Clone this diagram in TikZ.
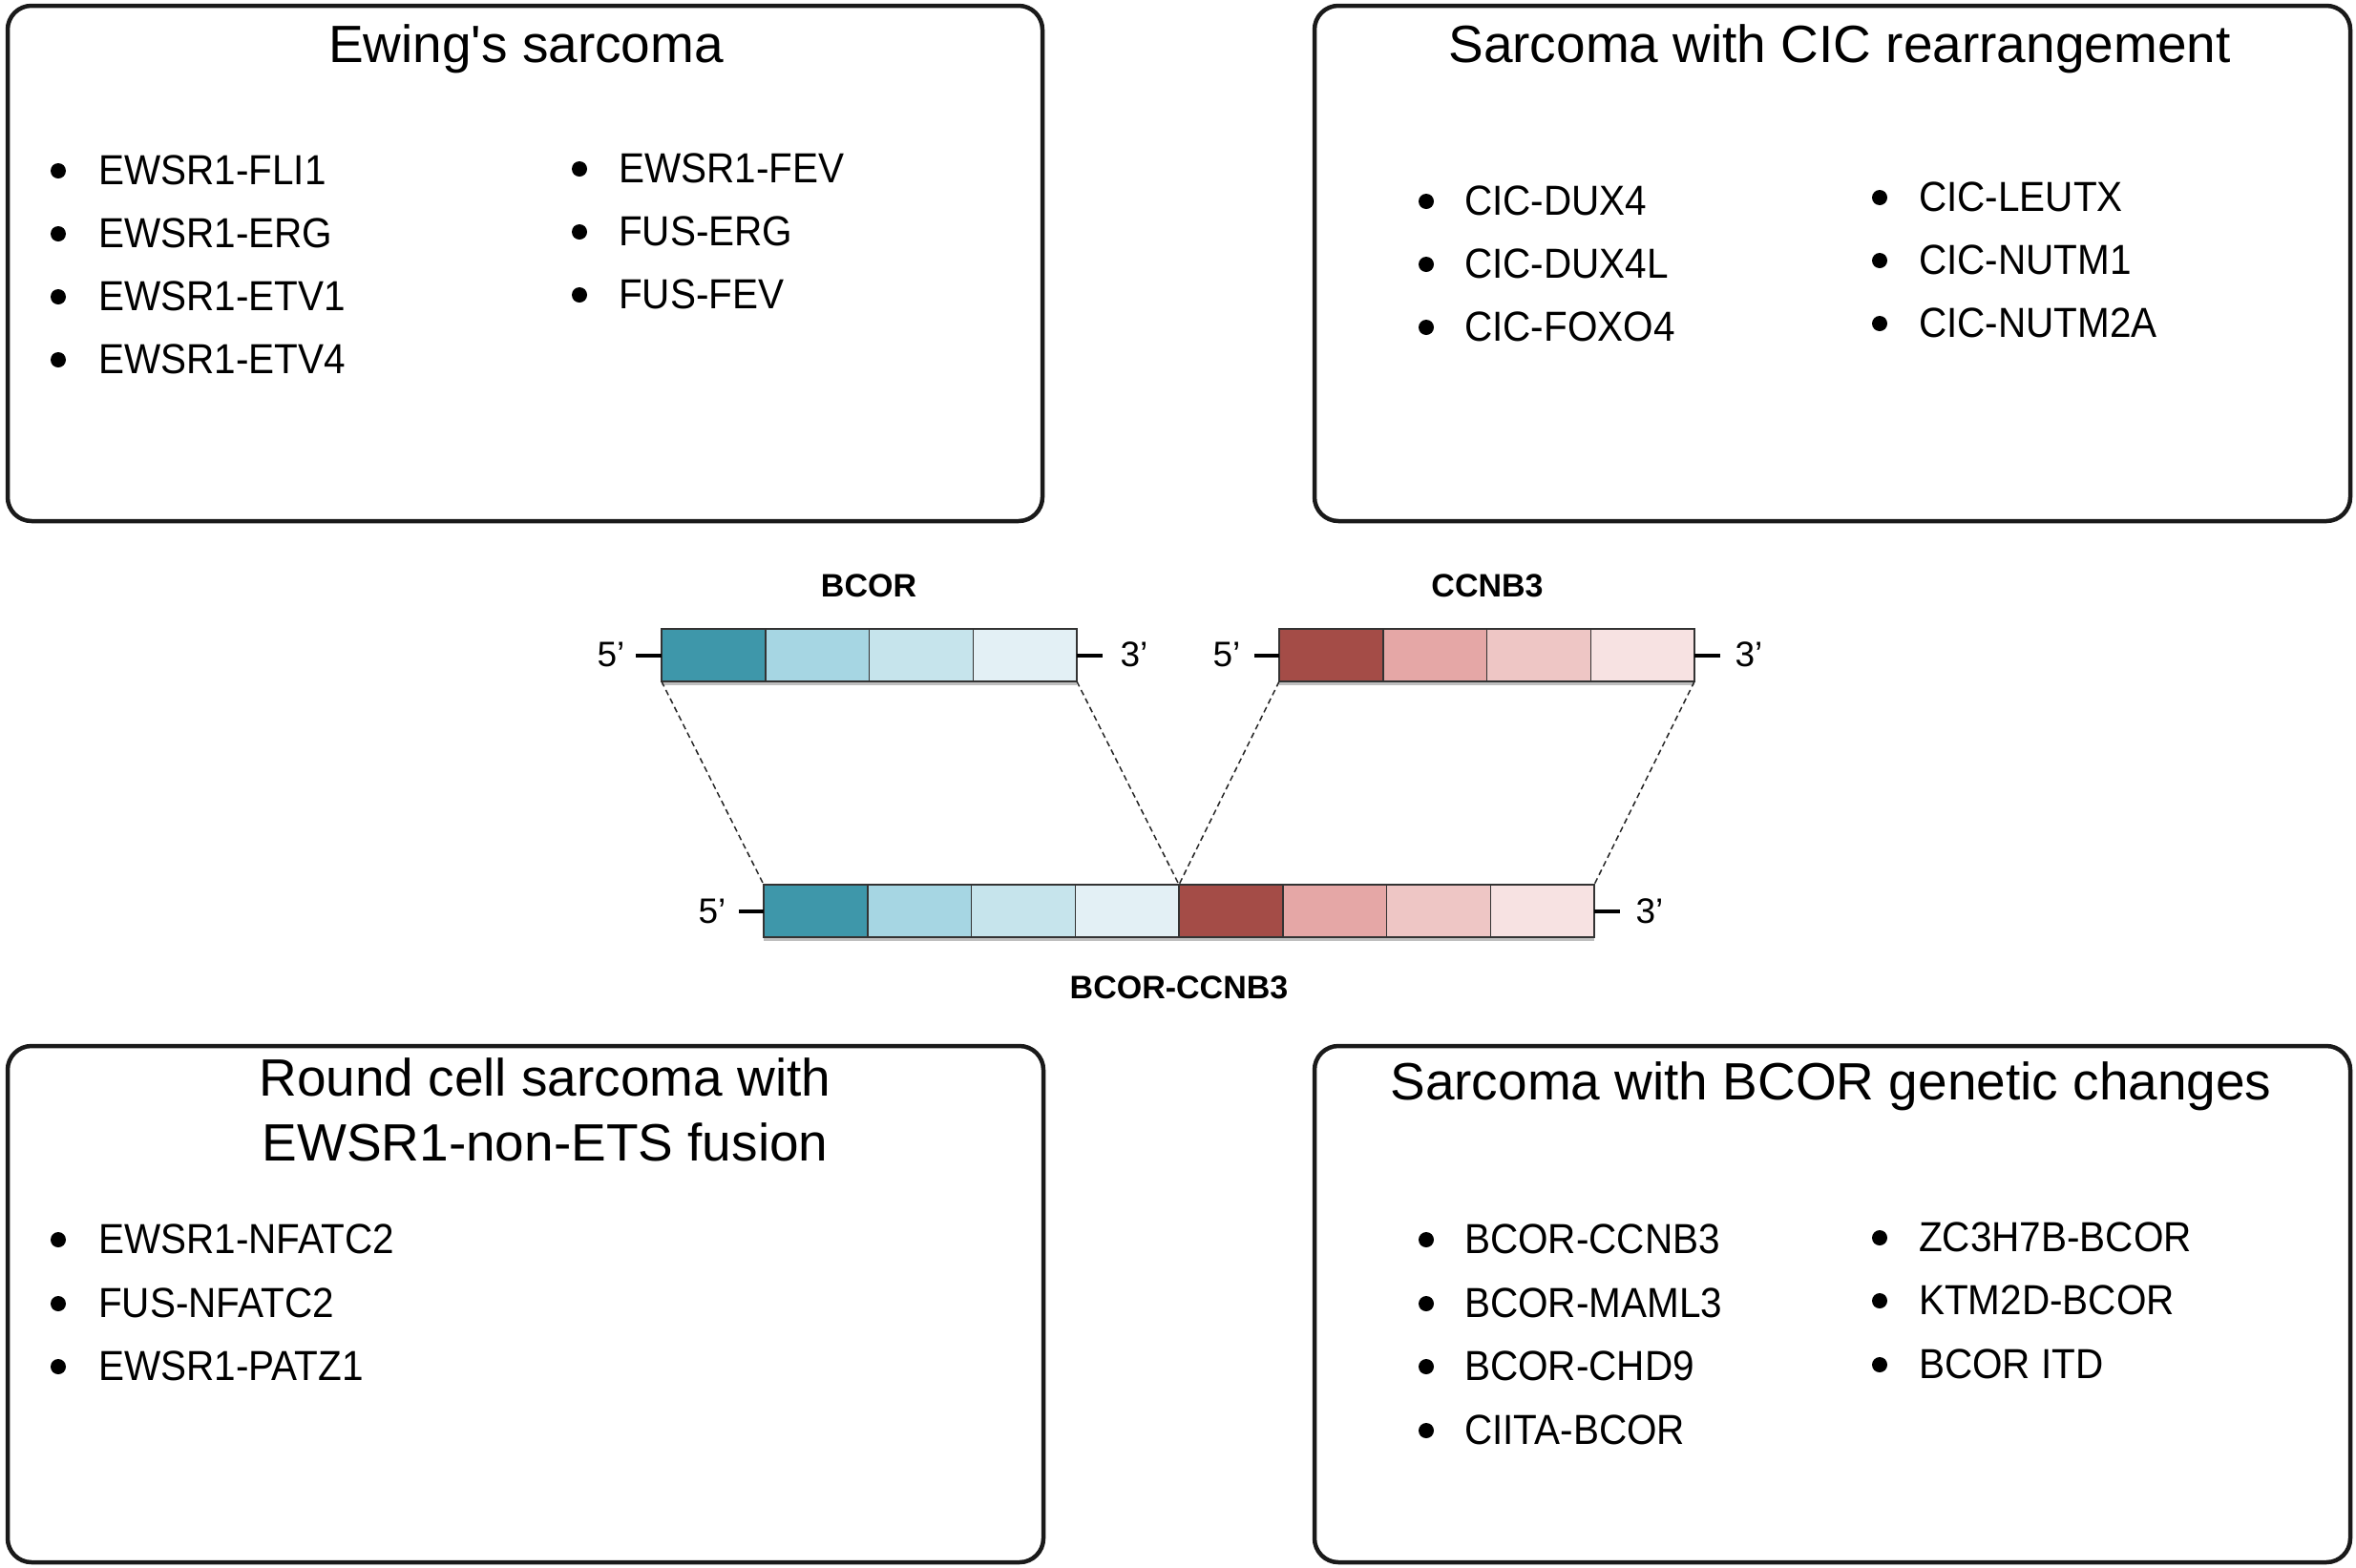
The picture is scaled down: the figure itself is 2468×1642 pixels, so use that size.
\documentclass[tikz,border=0pt]{standalone}
\usepackage{fontspec}
\setmainfont{Liberation Sans}
\newfontfamily\itemfont[FakeStretch=0.92]{Liberation Sans}
\newfontfamily\rawfont{Liberation Sans}
\usetikzlibrary{calc}
\definecolor{tA}{HTML}{3E97AA}
\definecolor{tB}{HTML}{A6D6E3}
\definecolor{tC}{HTML}{C6E4EC}
\definecolor{tD}{HTML}{E3F0F5}
\definecolor{rA}{HTML}{A44C47}
\definecolor{rB}{HTML}{E5A7A6}
\definecolor{rC}{HTML}{EEC6C5}
\definecolor{rD}{HTML}{F7E2E2}
\definecolor{edge}{HTML}{1A1A1A}
\begin{document}
\begin{tikzpicture}[x=1pt,y=-1pt,
  panel/.style={draw=edge, line width=4.5pt, rounded corners=25pt, inner sep=0pt, outer sep=0pt, anchor=north west},
  ptitle/.style={anchor=base, inner sep=0pt, font=\rawfont\fontsize{55}{66}\selectfont},
  item/.style={anchor=base west, inner sep=0pt, font=\itemfont\fontsize{44}{52}\selectfont},
  seg/.style={draw=black!80, line width=1.5pt, minimum width=108.75pt, minimum height=55pt, inner sep=0pt, outer sep=0pt, anchor=north west},
  stub/.style={line width=4pt, black},
  prime/.style={inner sep=0pt, font=\fontsize{37}{44}\selectfont},
  gname/.style={inner sep=0pt, font=\bfseries\fontsize{34}{40}\selectfont},
  link/.style={line width=1.5pt, black!85, dash pattern=on 6pt off 4pt},
  shade/.style={line width=3pt, black!25}
]
\useasboundingbox (0,0) rectangle (2468,1642);
\fill[white] (0,0) rectangle (2468,1642);

% panels
\node[panel, minimum width=1084pt, minimum height=540pt] (p1) at (8,6) {};
\node[panel, minimum width=1085pt, minimum height=540pt] (p2) at (1377,6) {};
\node[panel, minimum width=1085pt, minimum height=541pt] (p3) at (8,1096) {};
\node[panel, minimum width=1085pt, minimum height=541pt] (p4) at (1377,1096) {};

% titles
\node[ptitle] (t1) at (551,65) {Ewing's sarcoma};
\node[ptitle] (t2) at (1927,65) {Sarcoma with CIC rearrangement};
\node[ptitle] (t3a) at (571,1148) {Round cell sarcoma with};
\node[ptitle] (t3b) at (571,1216) {EWSR1-non-ETS fusion};
\node[ptitle] (t4) at (1918,1152) {Sarcoma with BCOR genetic changes};

% lists
\foreach \txt/\yy [count=\i] in {EWSR1-FLI1/193, EWSR1-ERG/259, EWSR1-ETV1/325, EWSR1-ETV4/391} {
  \fill (61,\yy-14) circle (8);
  \node[item] (ea\i) at (103,\yy) {\txt};
}
\foreach \txt/\yy [count=\i] in {EWSR1-FEV/191, FUS-ERG/257, FUS-FEV/323} {
  \fill (607,\yy-14) circle (8);
  \node[item] (eb\i) at (648,\yy) {\txt};
}
\foreach \txt/\yy [count=\i] in {CIC-DUX4/225, CIC-DUX4L/291, CIC-FOXO4/357} {
  \fill (1494,\yy-14) circle (8);
  \node[item] (ca\i) at (1534,\yy) {\txt};
}
\foreach \txt/\yy [count=\i] in {CIC-LEUTX/221, CIC-NUTM1/287, CIC-NUTM2A/353} {
  \fill (1969,\yy-14) circle (8);
  \node[item] (cb\i) at (2010,\yy) {\txt};
}
\foreach \txt/\yy [count=\i] in {EWSR1-NFATC2/1313, FUS-NFATC2/1380, EWSR1-PATZ1/1446} {
  \fill (61,\yy-14) circle (8);
  \node[item] (na\i) at (103,\yy) {\txt};
}
\foreach \txt/\yy [count=\i] in {BCOR-CCNB3/1313, BCOR-MAML3/1380, BCOR-CHD9/1446, CIITA-BCOR/1513} {
  \fill (1494,\yy-14) circle (8);
  \node[item] (ba\i) at (1534,\yy) {\txt};
}
\foreach \txt/\yy [count=\i] in {ZC3H7B-BCOR/1311, KTM2D-BCOR/1377, BCOR ITD/1444} {
  \fill (1969,\yy-14) circle (8);
  \node[item] (bb\i) at (2010,\yy) {\txt};
}

% gene names
\node[gname] (gbcor) at (910,614) {BCOR};
\node[gname] (gccnb) at (1558,614) {CCNB3};
\node[gname] (gfus) at (1235,1035) {BCOR-CCNB3};

% shadows
\draw[shade] (693,716) -- (1128,716);
\draw[shade] (1340,716) -- (1775,716);
\draw[shade] (800,984) -- (1670,984);

% BCOR
\node[seg, fill=tA] (b1) at (693,659) {};
\node[seg, fill=tB] (b2) at (b1.north east) {};
\node[seg, fill=tC] (b3) at (b2.north east) {};
\node[seg, fill=tD] (b4) at (b3.north east) {};
% CCNB3
\node[seg, fill=rA] (c1) at (1340,659) {};
\node[seg, fill=rB] (c2) at (c1.north east) {};
\node[seg, fill=rC] (c3) at (c2.north east) {};
\node[seg, fill=rD] (c4) at (c3.north east) {};
% fusion
\node[seg, fill=tA] (f1) at (800,927) {};
\node[seg, fill=tB] (f2) at (f1.north east) {};
\node[seg, fill=tC] (f3) at (f2.north east) {};
\node[seg, fill=tD] (f4) at (f3.north east) {};
\node[seg, fill=rA] (f5) at (f4.north east) {};
\node[seg, fill=rB] (f6) at (f5.north east) {};
\node[seg, fill=rC] (f7) at (f6.north east) {};
\node[seg, fill=rD] (f8) at (f7.north east) {};

% stubs
\coordinate (sb1) at ($(b1.west)+(-27,0)$);
\coordinate (sb2) at ($(b4.east)+(27,0)$);
\coordinate (sc1) at ($(c1.west)+(-26,0)$);
\coordinate (sc2) at ($(c4.east)+(27,0)$);
\coordinate (sf1) at ($(f1.west)+(-26,0)$);
\coordinate (sf2) at ($(f8.east)+(27,0)$);
\draw[stub] (b1.west) -- (sb1);
\draw[stub] (b4.east) -- (sb2);
\draw[stub] (c1.west) -- (sc1);
\draw[stub] (c4.east) -- (sc2);
\draw[stub] (f1.west) -- (sf1);
\draw[stub] (f8.east) -- (sf2);

% primes
\node[prime] (lb5) at (640,686) {5’};
\node[prime] (lb3) at (1188,686) {3’};
\node[prime] (lc5) at (1285,686) {5’};
\node[prime] (lc3) at (1832,686) {3’};
\node[prime] (lf5) at (746,955) {5’};
\node[prime] (lf3) at (1728,955) {3’};

% dashed links
\draw[link] (b1.south west) -- (f1.north west);
\draw[link] (b4.south east) -- (f4.north east);
\draw[link] (c1.south west) -- (f5.north west);
\draw[link] (c4.south east) -- (f8.north east);
\end{tikzpicture}
\end{document}
